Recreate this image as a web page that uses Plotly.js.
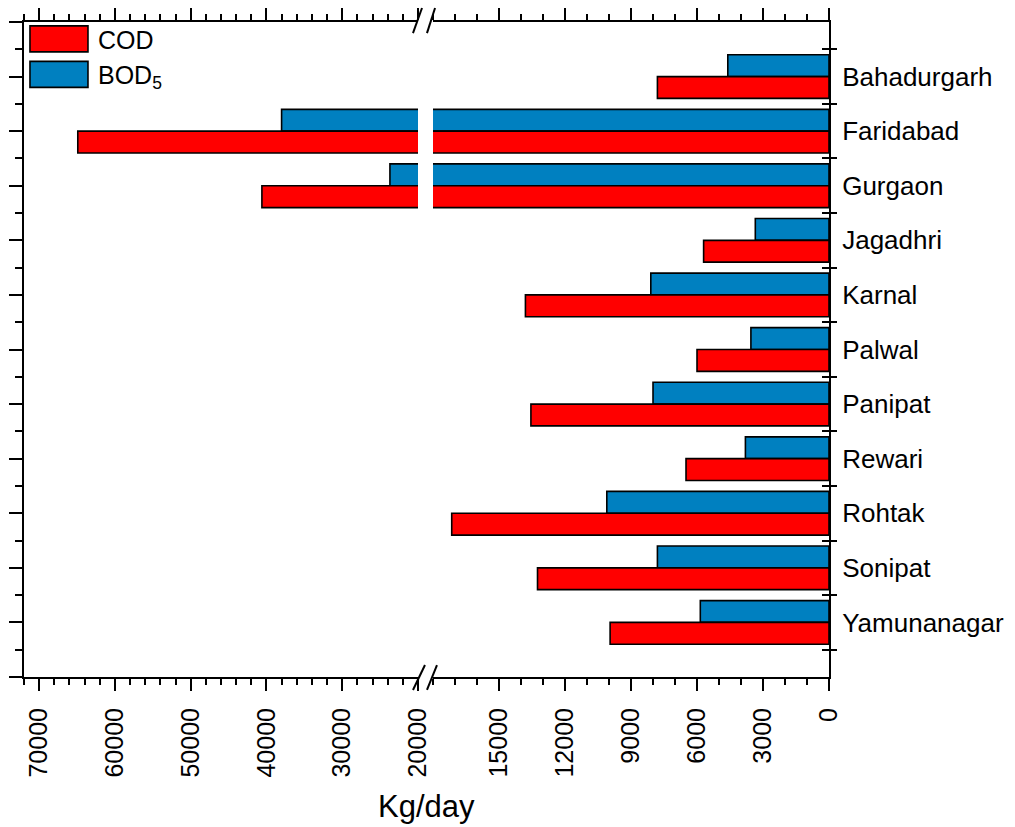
<!DOCTYPE html>
<html>
<head>
<meta charset="utf-8">
<script src="https://cdn.plot.ly/plotly-3.0.1.min.js"></script>
<style>
  html, body { margin: 0; padding: 0; background: #fff; }
  #chart { width: 1015px; height: 827px; }
</style>
</head>
<body>
<div id="chart"></div>
<script>
// ---- data ----
const cities = ['Bahadurgarh', 'Faridabad', 'Gurgaon', 'Jagadhri', 'Karnal', 'Palwal',
                'Panipat', 'Rewari', 'Rohtak', 'Sonipat', 'Yamunanagar'];
const cod  = [7800, 64900, 40600, 5700, 13800, 6000, 13550, 6500, 17150, 13250, 9950];
const bod5 = [4600, 38000, 23700, 3350, 8100, 3550, 8000, 3800, 10100, 7800, 5850];
const leftTicks  = [20000, 30000, 40000, 50000, 60000, 70000];
const rightTicks = [0, 3000, 6000, 9000, 12000, 15000];
const seriesNames = ['COD', 'BOD<sub>5</sub>'];

// ---- styling ----
const FONT = 'Liberation Sans, Arial, Helvetica, sans-serif';
const RED = '#FF0000';
const BLUE = '#0080C0';
const pos = cities.map((_, i) => i);
const bounds = pos.map(i => i - 0.5).concat([pos.length - 0.5]);

const leftDom = [0, 0.4894];
const rightDom = [0.5081, 1];

function barTrace(vals, name, color, xa, showLeg, rank) {
  return {
    type: 'bar', orientation: 'h', x: vals, y: pos,
    xaxis: xa, yaxis: 'y', name: name,
    marker: { color: color, line: { color: '#000', width: 1.6 } },
    showlegend: showLeg, legendgroup: name, legendrank: rank,
    hoverinfo: 'x+y'
  };
}

const traces = [
  barTrace(bod5, seriesNames[1], BLUE, 'x2', true, 2),
  barTrace(cod, seriesNames[0], RED, 'x2', true, 1),
  barTrace(bod5, seriesNames[1], BLUE, 'x', false, 2),
  barTrace(cod, seriesNames[0], RED, 'x', false, 1),
  { type: 'scatter', x: [], y: [], xaxis: 'x2', yaxis: 'y2', showlegend: false, hoverinfo: 'skip' },
  { type: 'scatter', x: [], y: [], xaxis: 'x2', yaxis: 'y3', showlegend: false, hoverinfo: 'skip' },
  { type: 'scatter', x: [], y: [], xaxis: 'x2', yaxis: 'y4', showlegend: false, hoverinfo: 'skip' }
];

const xCommon = {
  anchor: 'y', showgrid: false, zeroline: false,
  showline: true, linecolor: '#000', linewidth: 2, mirror: 'ticks',
  ticks: 'outside', ticklen: 12, tickwidth: 2, tickcolor: '#000',
  tickmode: 'array', tickformat: 'd', tickangle: -90,
  tickfont: { family: FONT, size: 25, color: '#000' },
  ticklabelstandoff: 7
};

const yBase = {
  range: [pos.length, -1], showgrid: false, zeroline: false
};

const layout = {
  width: 1015, height: 827,
  margin: { l: 24, r: 186, t: 22, b: 150, pad: 0 },
  paper_bgcolor: '#fff', plot_bgcolor: 'rgba(0,0,0,0)',
  font: { family: FONT, color: '#000' },
  barmode: 'group', bargap: 0.2, bargroupgap: 0,
  showlegend: true,
  legend: {
    x: -0.005, y: 1.009, xanchor: 'left', yanchor: 'top',
    bgcolor: 'rgba(0,0,0,0)', borderwidth: 0,
    font: { family: FONT, size: 25, color: '#000' },
    itemwidth: 68, traceorder: 'normal', tracegroupgap: 6
  },
  xaxis: Object.assign({}, xCommon, {
    domain: leftDom, range: [72000, 20000], tickvals: leftTicks,
    minor: { dtick: 2000, tick0: 0, ticklen: 6, tickwidth: 2, tickcolor: '#000', ticks: 'outside', showgrid: false }
  }),
  xaxis2: Object.assign({}, xCommon, {
    domain: rightDom, range: [18000, 0], tickvals: rightTicks,
    minor: { dtick: 1000, tick0: 0, ticklen: 6, tickwidth: 2, tickcolor: '#000', ticks: 'outside', showgrid: false }
  }),
  yaxis: Object.assign({}, yBase, {
    anchor: 'x', side: 'left', domain: [0, 1],
    tickmode: 'linear', tick0: 0, dtick: 1,
    ticks: 'outside', ticklen: 13, tickwidth: 2, tickcolor: '#000',
    minor: { dtick: 0.5, tick0: 0, ticklen: 7, tickwidth: 2, tickcolor: '#000', ticks: 'outside', showgrid: false },
    showticklabels: false, showline: true, linecolor: '#000', linewidth: 2
  }),
  yaxis2: Object.assign({}, yBase, {
    overlaying: 'y', anchor: 'x2', side: 'right',
    tickmode: 'array', tickvals: pos, ticktext: cities,
    ticks: '', showline: true, linecolor: '#000', linewidth: 2,
    tickfont: { family: FONT, size: 26, color: '#000' },
    ticklabelstandoff: 6
  }),
  yaxis3: Object.assign({}, yBase, {
    overlaying: 'y', anchor: 'x2', side: 'right',
    tickmode: 'array', tickvals: bounds, ticks: 'outside', ticklen: 7, tickwidth: 2, tickcolor: '#000',
    showticklabels: false, showline: false
  }),
  yaxis4: Object.assign({}, yBase, {
    overlaying: 'y', anchor: 'x2', side: 'right',
    tickmode: 'array', tickvals: bounds, ticks: 'inside', ticklen: 7, tickwidth: 2, tickcolor: '#000',
    showticklabels: false, showline: false
  }),
  annotations: [{
    text: 'Kg/day', xref: 'paper', yref: 'paper', x: 0.5, y: -0.197,
    xanchor: 'center', yanchor: 'middle', showarrow: false,
    font: { family: FONT, size: 31, color: '#000' }
  }],
  shapes: [
    // axis break marks, bottom
    { type: 'line', xref: 'paper', yref: 'paper', x0: 0.4832, y0: -0.0198, x1: 0.4981, y1: 0.0183, line: { color: '#000', width: 2 } },
    { type: 'line', xref: 'paper', yref: 'paper', x0: 0.5006, y0: -0.0198, x1: 0.5130, y1: 0.0183, line: { color: '#000', width: 2 } },
    // axis break marks, top
    { type: 'line', xref: 'paper', yref: 'paper', x0: 0.4832, y0: 0.983, x1: 0.4944, y1: 1.0214, line: { color: '#000', width: 2 } },
    { type: 'line', xref: 'paper', yref: 'paper', x0: 0.5006, y0: 0.983, x1: 0.5106, y1: 1.0214, line: { color: '#000', width: 2 } }
  ]
};

function widenSwatches(gd) {
  gd.querySelectorAll('.legend g.legendpoints path').forEach(function (p) {
    p.setAttribute('d', 'M29,13H-29V-13H29Z');
  });
}

Plotly.newPlot('chart', traces, layout, { displayModeBar: false, responsive: false }).then(function (gd) {
  widenSwatches(gd);
  gd.on('plotly_afterplot', function () { widenSwatches(gd); });
  setTimeout(function () { widenSwatches(gd); }, 50);
});
</script>
</body>
</html>
